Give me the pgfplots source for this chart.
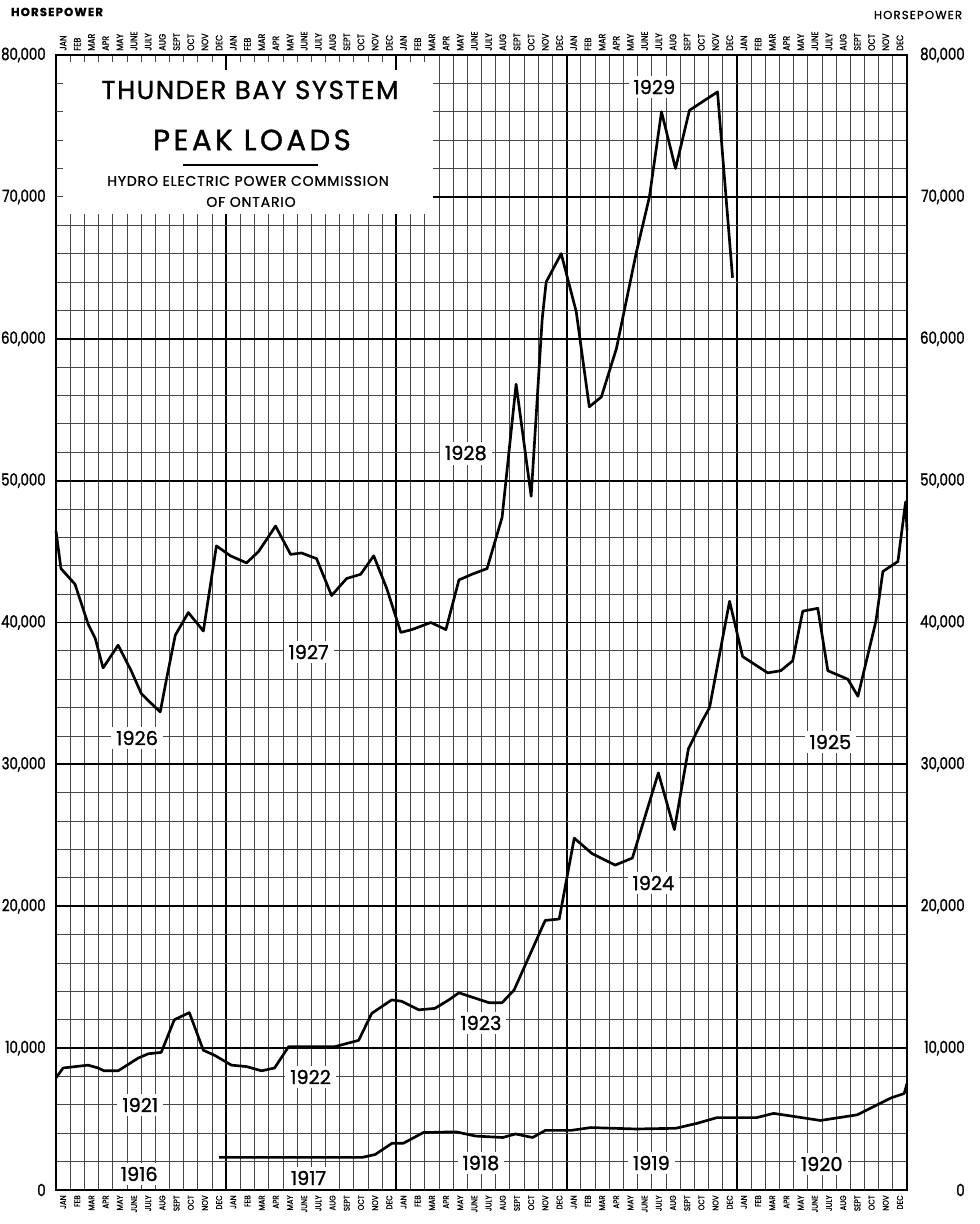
\documentclass[border=0pt]{standalone}
\usepackage{pgfplots}
\usepackage{pgfplotstable}
\pgfplotsset{compat=1.18}
\usepackage{fontspec}
\setmainfont{Poppins}[FakeBold=1.2]
\newfontfamily\plainfont{Poppins}[FakeBold=1.2]
\newfontfamily\narrowfont{Poppins}[FakeStretch=0.8, FakeBold=1.4]
\newfontfamily\monthfam{Poppins}[FakeStretch=0.85, FakeBold=1.0]
\newcommand\monthfont{\monthfam\fontsize{5.6}{5.6}\selectfont}
\newcommand\monthfontb{\monthfam\fontsize{5.0}{5.0}\selectfont}
\newcommand\yearfont{\fontsize{11.6}{11.6}\selectfont}
\newcommand\tickfont{\narrowfont\fontsize{10}{10}\selectfont}

% 1916-1920 (bottom row)
\pgfplotstableread{
m v
11.5 2300
21.6 2300
22.5 2500
23.7 3300
24.5 3300
25.9 4050
28.2 4100
29.6 3800
31.5 3700
32.4 3950
33.6 3700
34.5 4200
36.3 4200
37.7 4400
40.9 4300
43.7 4350
45.2 4700
46.6 5100
49.4 5100
50.6 5400
53.9 4900
56.5 5300
58.9 6500
59.8 6800
60 7500
}\rowA

% 1921-1925 (middle row)
\pgfplotstableread{
m v
0 7900
0.5 8600
2.26 8800
2.97 8600
3.39 8400
4.38 8400
5.80 9300
6.50 9600
7.42 9700
8.34 12000
9.40 12500
10.39 9850
11.17 9500
12.37 8800
13.43 8700
14.49 8400
15.41 8600
16.40 10100
19.65 10100
21.34 10550
22.26 12450
23.67 13400
24.38 13300
25.58 12700
26.71 12800
27.70 13400
28.41 13900
30.53 13200
31.45 13200
32.30 14100
34.49 19000
35.48 19100
36.54 24800
37.81 23700
39.43 22900
40.64 23400
42.47 29400
43.60 25400
44.59 31100
45.58 33100
46.08 34000
47.49 41500
48.41 37600
50.18 36450
51.10 36600
51.94 37300
52.65 40800
53.71 41000
54.42 36600
55.83 36000
56.54 34800
57.81 40100
58.30 43600
59.36 44300
59.9 48500
60 46500
}\rowB

% 1926-1929 (top row)
\pgfplotstableread{
m v
0 46450
0.35 43800
1.34 42700
2.26 39900
2.76 38900
3.32 36800
4.38 38400
5.30 36600
6.01 35000
6.50 34500
7.35 33700
7.77 35900
8.41 39100
9.33 40700
10.39 39400
11.31 45400
12.30 44700
13.43 44200
14.28 45000
15.48 46800
16.54 44800
17.31 44900
18.37 44500
19.43 41900
20.49 43100
21.48 43400
22.40 44700
23.32 42400
24.31 39300
25.09 39500
26.43 40000
27.49 39500
28.41 43000
29.33 43400
30.39 43800
31.45 47400
32.44 56800
33.50 48900
34.28 61400
34.56 64000
35.62 66000
36.68 61900
37.60 55200
38.45 55900
39.51 59300
40.92 66100
41.84 70000
42.69 76000
43.68 72000
44.66 76100
46.64 77400
47.70 64300
}\rowC

\begin{document}
\begin{tikzpicture}
% pixel frame: (px,py) of the 979x1224 reference
\begin{scope}[x=0.6pt,y=-0.6pt,shift={(-56,-1190)}]
\useasboundingbox (0,0) rectangle (979,1224);
\end{scope}

\begin{axis}[
  at={(0,0)}, anchor=south west,
  scale only axis, width=510.6pt, height=681pt,
  xmin=0, xmax=60, ymin=0, ymax=80000,
  xtick={0,12,...,60}, minor xtick={0,1,...,60},
  xticklabels={},
  ytick={0,10000,...,80000}, minor ytick={0,2000,...,80000},
  grid=both,
  major grid style={black, line width=1.1pt},
  minor grid style={black!72, line width=0.45pt},
  major tick length=0pt, minor tick length=0pt,
  axis line style={black, line width=1.2pt},
  scaled y ticks=false,
  yticklabel style={font=\tickfont, inner sep=0pt, xshift=-6pt,
    /pgf/number format/assume math mode=true,
    /pgf/number format/1000 sep={,}},
  clip=false,
]
\addplot[black, line width=1.6pt, line join=round, no markers] table[x=m,y=v] {\rowA};
\addplot[black, line width=1.6pt, line join=round, no markers] table[x=m,y=v] {\rowB};
\addplot[black, line width=1.6pt, line join=round, no markers] table[x=m,y=v] {\rowC};

\begin{scope}[every node/.style={fill=white, inner xsep=3pt, inner ysep=2.5pt, font=\yearfont}]
\node at (axis cs:5.87,1128) {1916};
\node at (axis cs:17.8,846) {1917};
\node at (axis cs:29.96,1903) {1918};
\node at (axis cs:41.98,1903) {1919};
\node at (axis cs:53.99,1832) {1920};
\node at (axis cs:5.94,5991) {1921};
\node at (axis cs:17.95,7964) {1922};
\node at (axis cs:29.96,11770) {1923};
\node at (axis cs:42.12,21637) {1924};
\node at (axis cs:54.6,31575) {1925};
\node at (axis cs:5.72,31857) {1926};
\node at (axis cs:17.81,37918) {1927};
\node at (axis cs:28.9,51944) {1928};
\node at (axis cs:42.19,77740) {1929};
\end{scope}
\end{axis}

\begin{scope}[x=0.6pt,y=-0.6pt,shift={(-56,-1190)}]
% title panel
\fill[white] (57.2,56.2) rectangle (433,214);
\foreach \i in {1,...,26} {\pgfmathsetmacro\xx{56+\i*14.1833}
  \draw[black!72, line width=0.45pt] (\xx,56) -- (\xx,62);}
\foreach \xx in {226.2,396.4} {\draw[black, line width=1.1pt] (\xx,56) -- (\xx,70);}
\foreach \k in {1,...,5} {\pgfmathsetmacro\yy{55+\k*28.375}
  \draw[black!72, line width=0.45pt] (56,\yy) -- (63,\yy);}
\node[font=\fontsize{15.6}{15.6}\selectfont\addfontfeature{LetterSpace=6}] at (250,90) {THUNDER BAY SYSTEM};
\node[font=\fontsize{17.5}{17.5}\selectfont\addfontfeature{LetterSpace=12}] at (252,140) {PEAK LOADS};
\draw[black, line width=1.2pt] (183,165) -- (318,165);
\node[font=\fontsize{8.4}{8.4}\selectfont\addfontfeature{LetterSpace=6}] at (248,181) {HYDRO ELECTRIC POWER COMMISSION};
\node[font=\fontsize{8.4}{8.4}\selectfont\addfontfeature{LetterSpace=6}] at (251,202) {OF ONTARIO};

% horsepower captions
\node[font=\fontsize{7}{7}\selectfont\bfseries\addfontfeature{LetterSpace=10}] at (57,12) {HORSEPOWER};
\node[font=\fontsize{7}{7}\selectfont\addfontfeature{LetterSpace=10}] at (918,15) {HORSEPOWER};

% right-hand scale
\foreach \v/\t in {0/0,1/{10,000},2/{20,000},3/{30,000},4/{40,000},5/{50,000},6/{60,000},7/{70,000},8/{80,000}}
  {\node[anchor=east, inner sep=0pt, font=\tickfont] at (965,{1190-\v*141.875}) {\t};}

% month labels, top and bottom
\foreach \yr in {0,...,4} {
  \foreach \n [count=\i from 0] in {JAN,FEB,MAR,APR,MAY,JUNE,JULY,AUG,SEPT,OCT,NOV,DEC} {
    \pgfmathsetmacro\xx{56+(\yr*12+\i+0.5)*14.1833}
    \node[rotate=90, anchor=west, inner sep=0pt, font=\monthfont] at (\xx,51) {\n};
    \node[rotate=90, anchor=east, inner sep=0pt, font=\monthfontb] at (\xx,1195) {\n};
  }
}
\end{scope}
\end{tikzpicture}
\end{document}
